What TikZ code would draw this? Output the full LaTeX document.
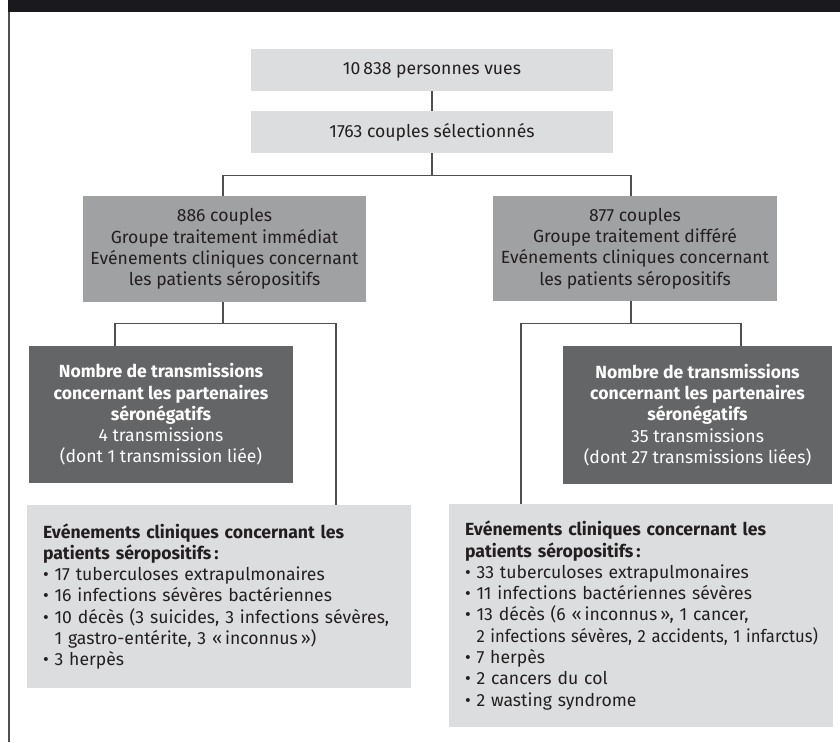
\documentclass[tikz,border=0pt]{standalone}
\usepackage{fontspec}
\setmainfont{Fira Sans}
\usetikzlibrary{positioning}
\definecolor{grisclair}{HTML}{DCDDDF}
\definecolor{grismoyen}{HTML}{A0A1A3}
\definecolor{grisfonce}{HTML}{646567}
\definecolor{bandeau}{HTML}{1A191E}
\definecolor{trait}{HTML}{505052}
\definecolor{encre}{HTML}{231F20}
\newcommand{\puce}{\textbullet\ }
\newcommand{\retrait}{\phantom{\textbullet\ }}
\tikzstyle{boiteclaire} = [fill=grisclair, text=encre, inner sep=0pt, align=center, font=\fontsize{17.6}{21.3}\selectfont]
\tikzstyle{boitemoyenne} = [fill=grismoyen, text=encre, inner sep=0pt, align=center, font=\fontsize{17.6}{21.3}\selectfont]
\tikzstyle{boitesombre} = [fill=grisfonce, text=white, inner sep=0pt, align=center, font=\fontsize{17.6}{21.3}\selectfont]
\tikzstyle{boiteliste} = [fill=grisclair, text=encre, inner xsep=16pt, inner ysep=0pt, align=left, text width=352pt, font=\fontsize{17.6}{21.3}\selectfont]
\tikzstyle{lien} = [draw=trait, line width=1.2pt]
\begin{document}
\begin{tikzpicture}[x=1pt,y=-1pt]
\useasboundingbox (0,0) rectangle (840,742);
% bandeau et filet gauche
\fill[bandeau] (8,0) rectangle (840,12);
\draw[trait, line width=1.5pt] (8.75,12) -- (8.75,742);

\node[boiteclaire, minimum width=362pt, minimum height=42pt] (vues) at (432,70) {10\,838 personnes vues};
\node[boiteclaire, minimum width=362pt, minimum height=42pt] (selection) at (432,132) {1763 couples sélectionnés};

\node[boitemoyenne, minimum width=283pt, minimum height=106pt] (immediat) at (224.5,249) {886 couples\\Groupe traitement immédiat\\Evénements cliniques concernant\\les patients séropositifs};
\node[boitemoyenne, minimum width=284pt, minimum height=105pt] (differe) at (635,248.5) {877 couples\\Groupe traitement différé\\Evénements cliniques concernant\\les patients séropositifs};

\node[boitesombre, minimum width=264pt, minimum height=137pt] (transA) at (161,414.5) {\textbf{Nombre de transmissions}\\\textbf{concernant les partenaires}\\\textbf{séronégatifs}\\4 transmissions\\(dont 1 transmission liée)};
\node[boitesombre, minimum width=269pt, minimum height=138pt] (transB) at (697.5,415) {\textbf{Nombre de transmissions}\\\textbf{concernant les partenaires}\\\textbf{séronégatifs}\\35 transmissions\\(dont 27 transmissions liées)};

\node[boiteliste, minimum height=183pt] (evenA) at (219,596.5) {\textbf{Evénements cliniques concernant les}\\\textbf{patients séropositifs\,:}\\
\puce 17 tuberculoses extrapulmonaires\\
\puce 16 infections sévères bactériennes\\
\puce 10 décès (3 suicides, 3 infections sévères,\\
\retrait 1 gastro-entérite, 3 «\,inconnus\,»)\\
\puce 3 herpès};
\node[boiteliste, minimum height=223pt] (evenB) at (641,615.5) {\textbf{Evénements cliniques concernant les}\\\textbf{patients séropositifs\,:}\\
\puce 33 tuberculoses extrapulmonaires\\
\puce 11 infections bactériennes sévères\\
\puce 13 décès (6 «\,inconnus\,», 1 cancer,\\
\retrait\scalebox{0.95}[1]{2 infections sévères, 2 accidents, 1 infarctus)}\\
\puce 7 herpès\\
\puce 2 cancers du col\\
\puce 2 wasting syndrome};

% liaisons
\draw[lien] (vues) -- (selection);
\draw[lien] (selection.south) -- ++(0,22) coordinate (fourche);
\draw[lien] (fourche) -| ([xshift=-1.5pt]immediat.north);
\draw[lien] (fourche) -| ([xshift=-4pt]differe.north);
\draw[lien] ([xshift=-1.5pt]immediat.south) -- ++(0,21.5) coordinate (fourcheA);
\draw[lien] (fourcheA) -| ([xshift=-46pt]transA.north);
\draw[lien] (fourcheA) -| ([xshift=117pt]evenA.north);
\draw[lien] ([xshift=-4pt]differe.south) -- ++(0,22.5) coordinate (fourcheB);
\draw[lien] (fourcheB) -| ([xshift=43.5pt]transB.north);
\draw[lien] (fourcheB) -| ([xshift=-120pt]evenB.north);
\end{tikzpicture}
\end{document}
